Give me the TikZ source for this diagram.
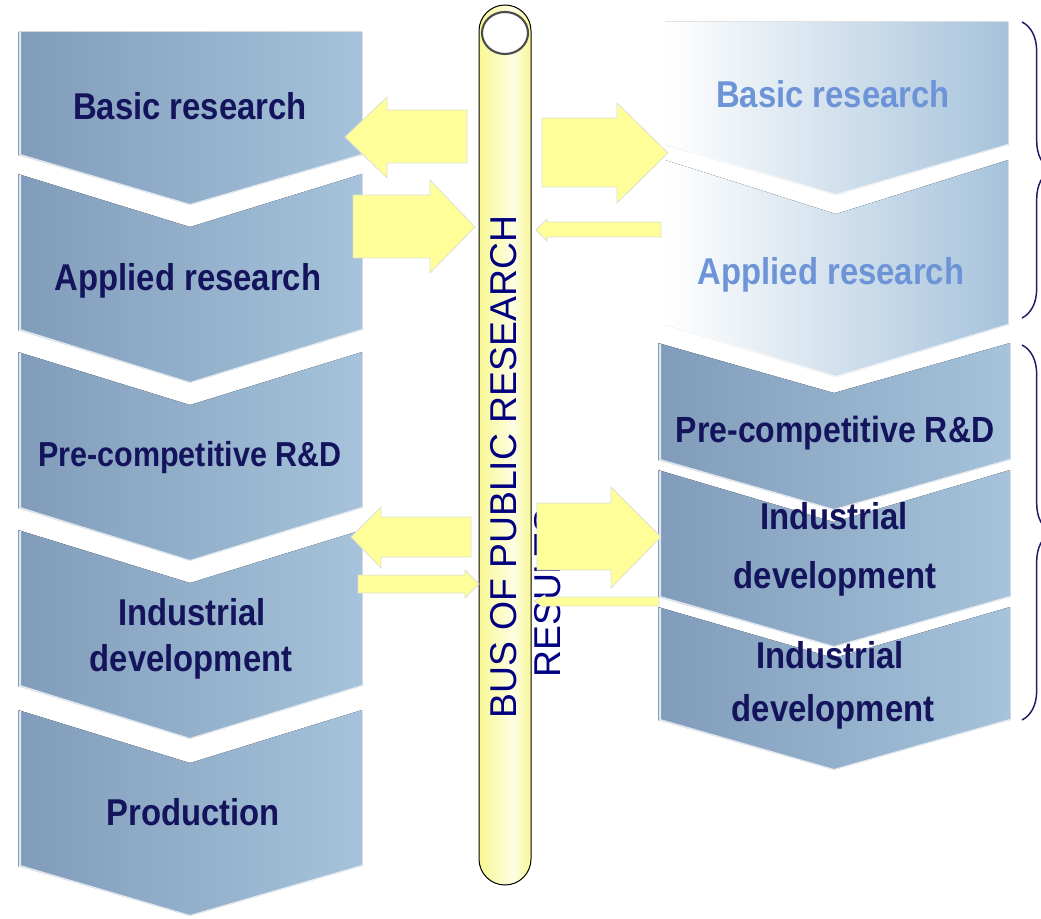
\documentclass[tikz,border=0pt]{standalone}
\usepackage{fontspec}
\setmainfont{Liberation Sans}
\newfontfamily\chevfont[FakeStretch=0.88]{Liberation Sans}
\usetikzlibrary{decorations.pathreplacing}

\definecolor{chevleft}{RGB}{128,156,186}
\definecolor{chevright}{RGB}{166,195,219}
\definecolor{chevtext}{RGB}{20,20,92}
\definecolor{fadetext}{RGB}{110,148,216}
\definecolor{busyellow}{RGB}{248,248,148}
\definecolor{busnavy}{RGB}{0,0,128}
\definecolor{arrowfill}{RGB}{255,255,153}
\definecolor{arrowedge}{RGB}{222,222,212}
\definecolor{bracenavy}{RGB}{28,28,100}

\pgfdeclarehorizontalshading{busshade}{100bp}{color(0bp)=(busyellow); color(25bp)=(busyellow); color(58bp)=(busyellow!25!white); color(75bp)=(busyellow); color(100bp)=(busyellow)}

\tikzset{every picture/.style={line width=0.75pt}}
\tikzset{
  chevron/.style={left color=chevleft, right color=chevright},
  fadechevron/.style={left color=white, right color=chevright},
  bevel/.style={draw=white, draw opacity=0.75, line width=1.5pt},
  blockarrow/.style={fill=arrowfill, draw=arrowedge, line width=0.6pt},
  chevlabel/.style={anchor=base, inner sep=0.75pt, text=chevtext, font=\chevfont\bfseries\fontsize{28}{34}\selectfont},
  fadelabel/.style={chevlabel, text=fadetext},
  buslabel/.style={inner sep=0.75pt, text=busnavy, font=\fontsize{28}{34}\selectfont, rotate=90},
  bracket/.style={draw=bracenavy, line width=1.1pt, decorate, decoration={brace, amplitude=22pt}}
}

\begin{document}
\begin{tikzpicture}[x=0.75pt,y=0.75pt,yscale=-1,xscale=1]
\useasboundingbox (0,0) rectangle (1041,919);

%Shape: Chevron left column
\fill [chevron] (18,32) -- (362,32) -- (362,155) -- (190,205) -- (18,155) -- cycle ;
\draw [bevel] (20,32) -- (20,155) -- (190,205) -- (362,155) ;
\fill [chevron] (18,174) -- (190,227) -- (362,174) -- (362,330) -- (190,383) -- (18,330) -- cycle ;
\draw [bevel] (20,175) -- (20,330) -- (190,383) -- (362,330) ;
\fill [chevron] (18,352) -- (190,405) -- (362,352) -- (362,508) -- (190,561) -- (18,508) -- cycle ;
\draw [bevel] (20,353) -- (20,508) -- (190,561) -- (362,508) ;
\fill [chevron] (18,530) -- (190,583) -- (362,530) -- (362,686) -- (190,739) -- (18,686) -- cycle ;
\draw [bevel] (20,531) -- (20,686) -- (190,739) -- (362,686) ;
\fill [chevron] (18,710) -- (190,763) -- (362,710) -- (362,866) -- (190,916) -- (18,866) -- cycle ;
\draw [bevel] (20,711) -- (20,866) -- (190,916) -- (362,866) ;

%Shape: Chevron right column
\fill [fadechevron] (665,22) -- (1008,22) -- (1008,145) -- (836,195) -- (665,145) -- cycle ;
\draw [bevel] (665,145) -- (836,195) -- (1008,145) ;
\fill [fadechevron] (665,160) -- (836,214) -- (1008,160) -- (1008,325) -- (836,377) -- (665,325) -- cycle ;
\draw [bevel] (665,325) -- (836,377) -- (1008,325) ;
\fill [chevron] (658,343) -- (834,393) -- (1010,343) -- (1010,460) -- (834,510) -- (658,460) -- cycle ;
\draw [bevel] (660,344) -- (660,460) -- (834,510) -- (1010,460) ;
\fill [chevron] (658,470) -- (834,522) -- (1010,470) -- (1010,597) -- (834,647) -- (658,597) -- cycle ;
\draw [bevel] (660,471) -- (660,597) -- (834,647) -- (1010,597) ;
\fill [chevron] (658,607) -- (834,658) -- (1010,607) -- (1010,720) -- (834,770) -- (658,720) -- cycle ;
\draw [bevel] (660,608) -- (660,720) -- (834,770) -- (1010,720) ;

%Shape: Can
\draw [shading=busshade, draw=black] (479,31) -- (479,859) arc (180:0:26) -- (531,31) arc (0:-180:26) -- cycle ;
%Shape: Ellipse
\draw [draw=black!70, line width=1.6pt, fill=white] (505,33) ellipse (23 and 21) ;

% Text Node
\draw (503.5,467) node (busline1) [buslabel] {BUS OF PUBLIC RESEARCH};
% Text Node
\draw (547.5,593) node (busline2) [buslabel] {RESULTS};

%Shape: Right Arrow
\draw [blockarrow] (467,110) -- (387,110) -- (387,97) -- (345,137) -- (387,178) -- (387,163) -- (467,163) -- cycle ;
\draw [blockarrow] (353,195) -- (430,195) -- (430,180) -- (475,227) -- (430,273) -- (430,258) -- (353,258) -- cycle ;
\draw [blockarrow] (542,118) -- (617,118) -- (617,103) -- (668,153) -- (617,203) -- (617,187) -- (542,187) -- cycle ;
\draw [blockarrow] (661,222) -- (547,222) -- (547,219) -- (536,230) -- (547,241) -- (547,237) -- (661,237) -- cycle ;
\draw [blockarrow] (471,517) -- (381,517) -- (381,507) -- (351,537) -- (381,568) -- (381,557) -- (471,557) -- cycle ;
\draw [blockarrow] (358,575) -- (465,575) -- (465,570) -- (479,584) -- (465,598) -- (465,593) -- (358,593) -- cycle ;
\draw [blockarrow] (537,503) -- (611,503) -- (611,487) -- (661,537) -- (611,588) -- (611,570) -- (537,570) -- cycle ;
\draw [blockarrow] (659,597) -- (545,597) -- (545,595) -- (534,601) -- (545,608) -- (545,606) -- (659,606) -- cycle ;

%Shape: Brace
\draw [bracket] (1022,22) -- (1022,318) ;
\draw [bracket] (1022,345) -- (1022,720) ;

% Text Node
\draw (190,120) node (basicL) [chevlabel] {Basic research};
% Text Node
\draw (188,291) node (appliedL) [chevlabel] {Applied research};
% Text Node
\draw (190,466) node (precompL) [chevlabel, font=\chevfont\bfseries\fontsize{26}{32}\selectfont] {Pre-competitive R\&D};
% Text Node
\draw (192,625) node (indevLa) [chevlabel] {Industrial};
% Text Node
\draw (191,671) node (indevLb) [chevlabel] {development};
% Text Node
\draw (193,825) node (productionL) [chevlabel] {Production};
% Text Node
\draw (833,108) node (basicR) [fadelabel] {Basic research};
% Text Node
\draw (831,285) node (appliedR) [fadelabel] {Applied research};
% Text Node
\draw (835,442) node (precompR) [chevlabel, font=\chevfont\bfseries\fontsize{27.3}{33}\selectfont] {Pre-competitive R\&D};
% Text Node
\draw (834,529) node (indevRa) [chevlabel] {Industrial};
% Text Node
\draw (835,588) node (indevRb) [chevlabel] {development};
% Text Node
\draw (830,668) node (indevRc) [chevlabel] {Industrial};
% Text Node
\draw (833,721) node (indevRd) [chevlabel] {development};

\end{tikzpicture}
\end{document}
